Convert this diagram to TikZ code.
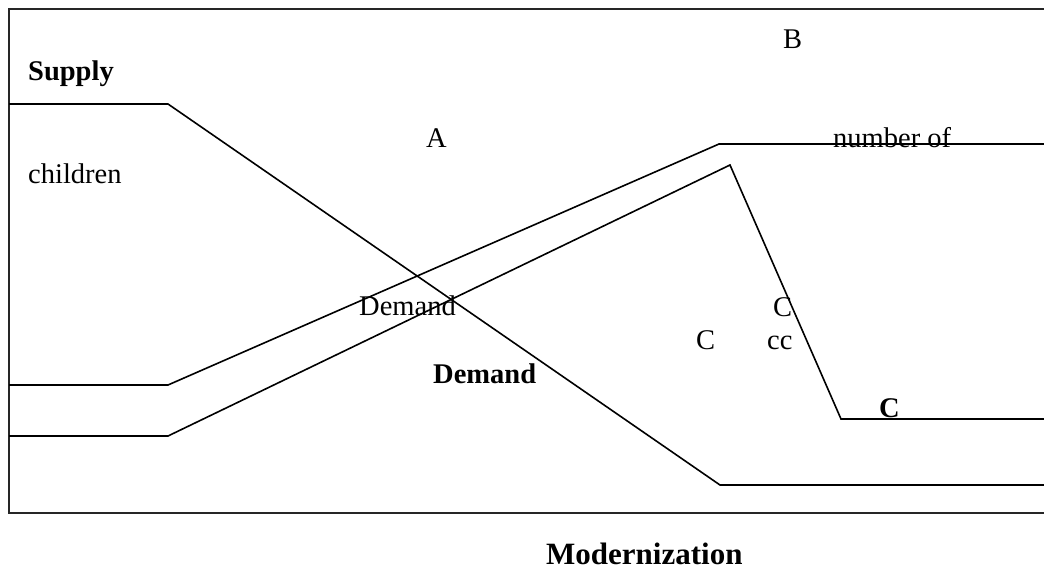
\documentclass[tikz,border=0pt]{standalone}
\usepackage{fontspec}
\setmainfont{Liberation Serif}
\begin{document}
\begin{tikzpicture}[x=1pt,y=-1pt,
  lbl/.style={anchor=base west,inner sep=0pt,font=\fontsize{28.5}{34}\selectfont},
  blbl/.style={lbl,font=\fontsize{28.5}{34}\selectfont\bfseries},
  curve/.style={line width=1.6pt,line join=miter},
  frame/.style={line width=1.8pt,draw=black!85}]
\useasboundingbox (0,0) rectangle (1044,571);
% frame
\coordinate (ftr) at (1044,9);
\coordinate (ftl) at (9,9);
\coordinate (fbl) at (9,513);
\coordinate (fbr) at (1044,513);
\draw[frame] (ftr) -- (ftl) -- (fbl) -- (fbr);
% supply curve
\coordinate (s0) at (9,104);
\coordinate (s1) at (168,104);
\coordinate (s2) at (720,485);
\coordinate (s3) at (1044,485);
\draw[curve] (s0) -- (s1) -- (s2) -- (s3);
% demand curve 1
\coordinate (d0) at (9,385);
\coordinate (d1) at (168,385);
\coordinate (d2) at (719,144);
\coordinate (d3) at (1044,144);
\draw[curve] (d0) -- (d1) -- (d2) -- (d3);
% demand curve 2
\coordinate (e0) at (9,436);
\coordinate (e1) at (168,436);
\coordinate (e2) at (730,165);
\coordinate (e3) at (841,419);
\coordinate (e4) at (1044,419);
\draw[curve] (e0) -- (e1) -- (e2) -- (e3) -- (e4);
% labels
\node[blbl] (supply) at (28,80) {Supply};
\node[lbl] (children) at (28,183) {children};
\node[lbl] (A) at (426,147) {A};
\node[lbl] (B) at (783,48) {B};
\node[lbl] (numberof) at (833,147) {number of};
\node[lbl] (demand1) at (359,315) {Demand};
\node[blbl] (demand2) at (433,383) {Demand};
\node[lbl] (C1) at (696,349) {C};
\node[lbl] (C2) at (773,316) {C};
\node[lbl] (cc) at (767,349) {cc};
\node[blbl] (C3) at (879,417) {C};
\node[blbl,font=\fontsize{31}{36}\selectfont\bfseries] (modern) at (546,564) {Modernization};
\end{tikzpicture}
\end{document}
